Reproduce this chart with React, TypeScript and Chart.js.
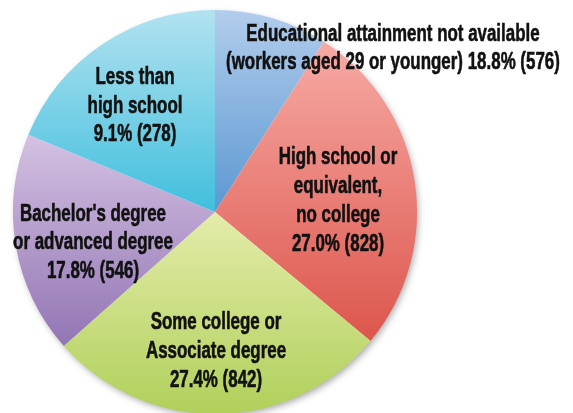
import React, { useEffect, useRef } from "react";
import { Chart, registerables } from "chart.js";

Chart.register(...registerables);

// Categories in drawing order (clockwise from 12 o'clock)
const categories = [
  "Educational attainment not available (workers aged 29 or younger)",
  "High school or equivalent, no college",
  "Some college or Associate degree",
  "Bachelor's degree or advanced degree",
  "Less than high school",
];

// Slice sizes as drawn in the picture (blue slice is the small one, cyan the larger)
const sliceValues = [278, 828, 842, 546, 576];

// Label texts exactly as printed on the picture
const labelLines: string[][] = [
  ["Educational attainment not available", "(workers aged 29 or younger) 18.8% (576)"],
  ["High school or", "equivalent,", "no college", "27.0% (828)"],
  ["Some college or", "Associate degree", "27.4% (842)"],
  ["Bachelor's degree", "or advanced degree", "17.8% (546)"],
  ["Less than", "high school", "9.1% (278)"],
];

// Gradient colours (top -> bottom) per slice
const topColors = ["#b2cdec", "#f7aaa5", "#e4ecaa", "#d4c1e2", "#b2e2f0"];
const bottomColors = ["#5b98d2", "#dc564c", "#b0d05a", "#9275b4", "#40bfdd"];

// Label block centres relative to pie centre, in units of radius
const labelPos: [number, number][] = [
  [0.881, -0.81],
  [0.609, -0.055],
  [0.005, 0.69],
  [-0.604, 0.152],
  [-0.396, -0.525],
];

const LINE_H = 28.8;
const FONT = "bold 24px 'Liberation Sans', Arial, sans-serif";
const X_SCALE = 0.705;

function geom(chart: any) {
  const a = chart.chartArea;
  const cx = (a.left + a.right) / 2;
  const cy = (a.top + a.bottom) / 2;
  const r = Math.min(a.right - a.left, a.bottom - a.top) / 2;
  return { cx, cy, r };
}

function sliceGradient(c: any) {
  const chart = c.chart;
  const i = c.dataIndex ?? 0;
  if (!chart.chartArea) return topColors[i];
  const { cy, r } = geom(chart);
  const total = sliceValues.reduce((s, v) => s + v, 0);
  const before = sliceValues.slice(0, i).reduce((s, v) => s + v, 0);
  const start = -Math.PI / 2 + (2 * Math.PI * before) / total;
  const end = start + (2 * Math.PI * sliceValues[i]) / total;
  const ys = [cy, cy + r * Math.sin(start), cy + r * Math.sin(end)];
  for (let k = -2; k <= 3; k++) {
    const up = -Math.PI / 2 + 2 * Math.PI * k;
    const dn = Math.PI / 2 + 2 * Math.PI * k;
    if (up >= start && up <= end) ys.push(cy - r);
    if (dn >= start && dn <= end) ys.push(cy + r);
  }
  const y0 = Math.min(...ys);
  const y1 = Math.max(...ys);
  const g = chart.ctx.createLinearGradient(0, y0, 0, y1);
  g.addColorStop(0, topColors[i]);
  g.addColorStop(1, bottomColors[i]);
  return g;
}

const shadowPlugin = {
  id: "pieShadow",
  beforeDatasetsDraw(chart: any) {
    const { cx, cy, r } = geom(chart);
    const ctx = chart.ctx;
    ctx.save();
    ctx.shadowColor = "rgba(0,0,0,0.35)";
    ctx.shadowBlur = 7;
    ctx.shadowOffsetX = 2;
    ctx.shadowOffsetY = 3;
    ctx.fillStyle = "#ffffff";
    ctx.beginPath();
    ctx.arc(cx, cy, r - 1, 0, Math.PI * 2);
    ctx.fill();
    ctx.restore();
  },
};

const labelPlugin = {
  id: "sliceLabels",
  afterDatasetsDraw(chart: any) {
    const { cx, cy, r } = geom(chart);
    const ctx = chart.ctx;
    ctx.save();
    ctx.font = FONT;
    ctx.fillStyle = "#111111";
    ctx.strokeStyle = "#111111";
    ctx.lineWidth = 0.6;
    ctx.lineJoin = "round";
    ctx.textAlign = "center";
    ctx.textBaseline = "middle";
    labelLines.forEach((lines, i) => {
      const x = cx + labelPos[i][0] * r;
      const y = cy + labelPos[i][1] * r;
      const y0 = y - ((lines.length - 1) * LINE_H) / 2;
      lines.forEach((t, j) => {
        ctx.save();
        ctx.translate(x, y0 + j * LINE_H);
        ctx.scale(X_SCALE, 1);
        ctx.fillText(t, 0, 0);
        ctx.strokeText(t, 0, 0);
        ctx.restore();
      });
    });
    ctx.restore();
  },
};

export default function App() {
  const ref = useRef<HTMLCanvasElement | null>(null);
  useEffect(() => {
    if (!ref.current) return;
    const chart = new Chart(ref.current, {
      type: "pie",
      data: {
        labels: categories,
        datasets: [
          {
            data: sliceValues,
            backgroundColor: sliceGradient as any,
            borderWidth: 0,
          },
        ],
      },
      options: {
        responsive: false,
        animation: false,
        devicePixelRatio: 1,
        layout: { padding: { left: 13, top: 10, right: 156, bottom: 2 } },
        plugins: {
          legend: { display: false },
          tooltip: { enabled: false },
        },
      },
      plugins: [shadowPlugin, labelPlugin],
    });
    return () => chart.destroy();
  }, []);
  return (
    <div
      style={{
        position: "fixed",
        left: 0,
        top: 0,
        width: 573,
        height: 413,
        overflow: "hidden",
        background: "#ffffff",
      }}
    >
      <canvas ref={ref} width={573} height={416} style={{ display: "block" }} />
    </div>
  );
}
